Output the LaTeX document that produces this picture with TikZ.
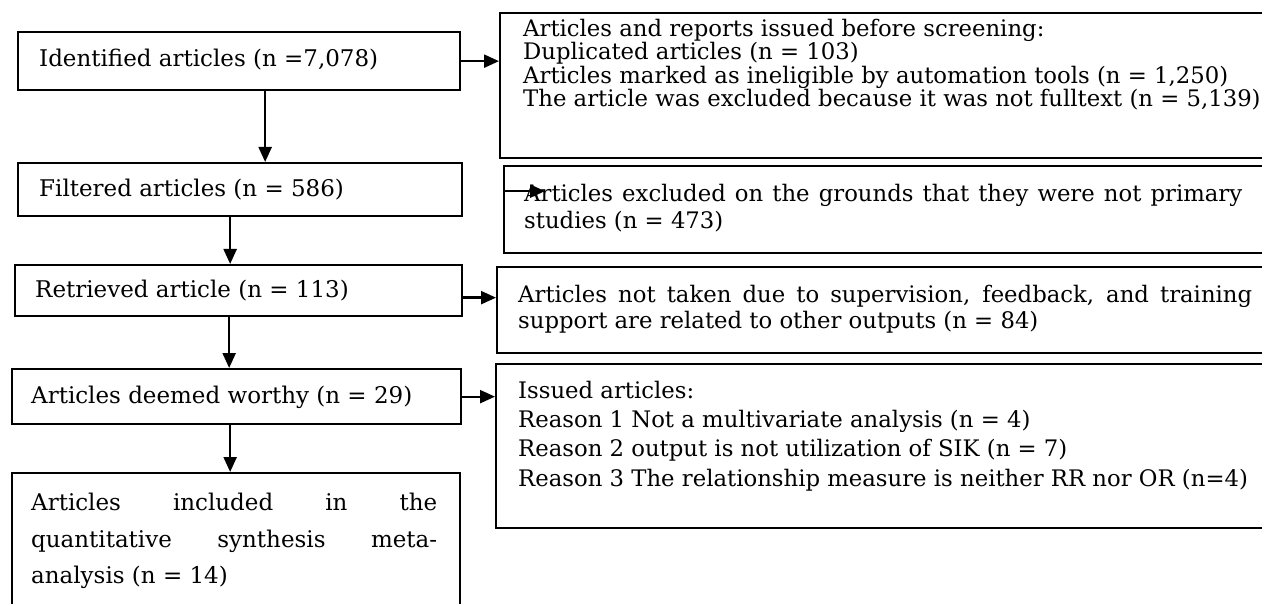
\documentclass[tikz,border=0pt]{standalone}
\usepackage{fontspec}
\setmainfont{DejaVu Serif}
\usetikzlibrary{arrows.meta,calc}
\newlength\wA
\newlength\wB
\begin{document}
\settowidth\wA{\fontsize{10pt}{12pt}\selectfont Identified articles (n =7,078)}%
\settowidth\wB{\fontsize{10pt}{12pt}\selectfont Articles marked as ineligible by automation tools (n = 1,250)}%
\pgfmathsetmacro\fsL{10*339/\wA}%
\pgfmathsetmacro\fsR{10*705/\wB}%
\begin{tikzpicture}[x=1pt,y=-1pt,
  box/.style={draw, line width=2.3pt, rectangle, inner sep=0pt, anchor=north west},
  arr/.style={line width=2.3pt, -{Triangle[length=15pt,width=13pt]}},
  ltxt/.style={anchor=base west, inner sep=0pt, font=\fontsize{\fsL pt}{\fsL pt}\selectfont},
  rtxt/.style={anchor=base west, inner sep=0pt, font=\fontsize{\fsR pt}{\fsR pt}\selectfont}]
\clip (0,0) rectangle (1262,604);
\fill[white] (0,0) rectangle (1262,604);
% left column boxes
\node[box, minimum width=442pt, minimum height=58pt] (l1) at (17,31) {};
\node[box, minimum width=444pt, minimum height=53pt] (l2) at (17,162) {};
\node[box, minimum width=447pt, minimum height=51pt] (l3) at (14,264) {};
\node[box, minimum width=449pt, minimum height=55pt] (l4) at (11,368) {};
\node[box, minimum width=448pt, minimum height=150pt] (l5) at (11,472) {};
% right column boxes
\node[box, minimum width=800pt, minimum height=145pt] (r1) at (499,12) {};
\node[box, minimum width=800pt, minimum height=87pt] (r2) at (503,165) {};
\node[box, minimum width=800pt, minimum height=86pt] (r3) at (496,266) {};
\node[box, minimum width=800pt, minimum height=164pt] (r4) at (495,363) {};
% left texts
\node[ltxt] (t1) at (39,67) {Identified articles (n =7,078)};
\node[ltxt] (t2) at (39,197) {Filtered articles (n = 586)};
\node[ltxt] (t3) at (35,298) {Retrieved article (n = 113)};
\node[ltxt] (t4) at (31,403) {Articles deemed worthy (n = 29)};
\node[ltxt] (t5a) at (31,510) {\makebox[406pt][s]{Articles included in the}};
\node[ltxt] (t5b) at (31,547) {\makebox[406pt][s]{quantitative synthesis meta-}};
\node[ltxt] (t5c) at (31,583) {analysis (n = 14)};
% right texts
\node[rtxt] (u1a) at (523,37) {Articles and reports issued before screening:};
\node[rtxt] (u1b) at (523,60) {Duplicated articles (n = 103)};
\node[rtxt] (u1c) at (523,83.5) {Articles marked as ineligible by automation tools (n = 1,250)};
\node[rtxt] (u1d) at (523,107) {The article was excluded because it was not fulltext (n = 5,139)};
\node[rtxt] (u2a) at (524,202) {\makebox[718pt][s]{Articles excluded on the grounds that they were not primary}};
\node[rtxt] (u2b) at (524,229) {studies (n = 473)};
\node[rtxt] (u3a) at (518,303) {\makebox[734pt][s]{Articles not taken due to supervision, feedback, and training}};
\node[rtxt] (u3b) at (518,328) {support are related to other outputs (n = 84)};
\node[rtxt] (u4a) at (518,398) {Issued articles:};
\node[rtxt] (u4b) at (518,427) {Reason 1 Not a multivariate analysis (n = 4)};
\node[rtxt] (u4c) at (518,456) {Reason 2 output is not utilization of SIK (n = 7)};
\node[rtxt] (u4d) at (518,486) {Reason 3 The relationship measure is neither RR nor OR (n=4)};
% vertical connectors
\coordinate (a1) at ($(l1.south)+(26,0)$);
\draw[arr] (a1) -- (a1 |- l2.north);
\coordinate (a2) at ($(l2.south)+(-10,0)$);
\draw[arr] (a2) -- (a2 |- l3.north);
\coordinate (a3) at ($(l3.south)+(-9.5,0)$);
\draw[arr] (a3) -- (a3 |- l4.north);
\coordinate (a4) at ($(l4.south)+(-6.5,0)$);
\draw[arr] (a4) -- (a4 |- l5.north);
% horizontal connectors
\draw[arr] (l1.east) -- (l1.east -| r1.west);
\coordinate (b2) at ([yshift=18.5pt]r2.west);
\coordinate (b2e) at ($(b2)+(42,0)$);
\draw[arr] (b2) -- (b2e);
\coordinate (b3) at ([yshift=-7pt]l3.east);
\draw[arr] (b3) -- (b3 -| r3.west);
\draw[arr] (l4.east) -- (l4.east -| r4.west);
\end{tikzpicture}
\end{document}
